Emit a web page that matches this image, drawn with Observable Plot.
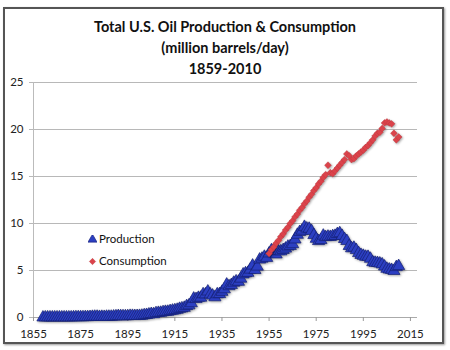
<!DOCTYPE html>
<html>
<head>
<meta charset="utf-8">
<script src="https://cdn.jsdelivr.net/npm/d3@7"></script>
<script src="https://cdn.jsdelivr.net/npm/@observablehq/plot@0.6"></script>
<style>
  html, body { margin: 0; padding: 0; background: #fff; }
  #wrap { position: relative; width: 450px; height: 350px; overflow: hidden; font-family: Lato, "Open Sans", sans-serif; }
  #frame { position: absolute; left: 3px; top: 7px; width: 437px; height: 333px; border: 2px solid #555; box-shadow: 1px 1px 2px #999; }
  #title { position: absolute; left: 0; top: 16px; width: 450px; text-align: center; font-weight: bold; font-size: 14.5px; line-height: 21px; color: #111; }
  #chart { position: absolute; left: 0; top: 0; }
  #legend { position: absolute; left: 88px; top: 228px; font-size: 11.5px; color: #111; line-height: 22px; }
  #legend div { display: flex; align-items: center; }
  #legend svg { margin-right: 2px; }
</style>
</head>
<body>
<div id="wrap">
  <div id="frame"></div>
  <div id="chart"></div>
  <div id="title">Total U.S. Oil Production &amp; Consumption<br>(million barrels/day)<br>1859-2010</div>
  <div id="legend"></div>
</div>
<script>
// Production, 1859-2010 (million barrels/day)
const productionYears = d3.range(1859, 2011);
const productionValues = [
  0.00, 0.01, 0.01, 0.01, 0.01, 0.01, 0.01, 0.01, 0.01, 0.01, // 1859-1868
  0.01, 0.01, 0.01, 0.02, 0.03, 0.03, 0.03, 0.03, 0.04, 0.04, // 1869-1878
  0.05, 0.07, 0.08, 0.08, 0.06, 0.07, 0.06, 0.08, 0.08, 0.08, // 1879-1888
  0.10, 0.12, 0.15, 0.14, 0.13, 0.13, 0.14, 0.17, 0.17, 0.15, // 1889-1898
  0.16, 0.17, 0.19, 0.24, 0.27, 0.32, 0.37, 0.35, 0.46, 0.49, // 1899-1908
  0.50, 0.57, 0.60, 0.61, 0.68, 0.73, 0.77, 0.82, 0.92, 0.97, // 1909-1918
  1.03, 1.21, 1.29, 1.52, 2.01, 1.96, 2.09, 2.11, 2.47, 2.46, // 1919-1928
  2.76, 2.46, 2.33, 2.15, 2.47, 2.49, 2.73, 3.00, 3.50, 3.33, // 1929-1938
  3.46, 3.70, 3.84, 3.80, 4.13, 4.58, 4.70, 4.75, 5.09, 5.52, // 1939-1948
  5.05, 5.41, 6.16, 6.26, 6.46, 6.34, 6.81, 7.15, 7.17, 6.71, // 1949-1958
  7.05, 7.04, 7.18, 7.33, 7.54, 7.61, 7.80, 8.30, 8.80, 9.10, // 1959-1968
  9.24, 9.64, 9.46, 9.44, 9.21, 8.77, 8.37, 8.13, 8.24, 8.71, // 1969-1978
  8.55, 8.60, 8.57, 8.65, 8.69, 8.88, 8.97, 8.68, 8.35, 8.14, // 1979-1988
  7.61, 7.36, 7.42, 7.17, 6.85, 6.66, 6.56, 6.46, 6.45, 6.25, // 1989-1998
  5.88, 5.82, 5.80, 5.74, 5.65, 5.42, 5.18, 5.10, 5.06, 4.95, // 1999-2008
  5.36, 5.47                                                  // 2009-2010
];

// Consumption, 1955-2010 (million barrels/day), as drawn in the reference
const consumptionYears = d3.range(1955, 2011);
const consumptionValues = [
  6.8, 7.2, 7.5, 7.9, 8.2, 8.6, 8.9, 9.3, 9.6, 10.0,          // 1955-1964
  10.3, 10.7, 11.0, 11.4, 11.7, 12.1, 12.4, 12.8, 13.1, 13.5, // 1965-1974
  13.8, 14.2, 14.5, 14.9, 15.2, 16.2, 15.4, 15.3, 15.6, 15.9, // 1975-1984
  16.2, 16.5, 16.8, 17.4, 17.2, 16.8, 16.9, 17.2, 17.4, 17.6, // 1985-1994
  17.8, 18.1, 18.3, 18.6, 18.9, 19.3, 19.6, 19.7, 20.1, 20.7, // 1995-2004
  20.8, 20.7, 20.6, 19.6, 18.9, 19.2                          // 2005-2010
];

const xTicks = [1855, 1875, 1895, 1915, 1935, 1955, 1975, 1995, 2015];
const yTicks = [0, 5, 10, 15, 20, 25];
const seriesNames = ["Production", "Consumption"];
const prodColor = "#2c3fc2", prodStroke = "#141f73";
const consColor = "#db434b", consStroke = "#b8343b";

const production = productionYears.map((y, i) => ({year: y, value: productionValues[i]}));
const consumption = consumptionYears.map((y, i) => ({year: y, value: consumptionValues[i]}));

const chart = Plot.plot({
  width: 450,
  height: 350,
  marginLeft: 33,
  marginRight: 33,
  marginTop: 82,
  marginBottom: 33,
  style: {fontFamily: "Lato, 'Open Sans', sans-serif", fontSize: "11.5px", color: "#222", background: "transparent", overflow: "visible"},
  x: {domain: [1855, 2018], ticks: xTicks, tickFormat: d => String(d), label: null},
  y: {domain: [0, 25], ticks: yTicks, label: null},
  marks: [
    Plot.gridY(yTicks, {stroke: "#b8b8b8", strokeOpacity: 1, x1: 1855, x2: 2018, insetLeft: -4}),
    Plot.ruleX([1855], {stroke: "#bbb", y1: 0, y2: 25}),
    Plot.ruleY([0], {stroke: "#aaa"}),
    Plot.axisX({ticks: xTicks, tickSize: 4, tickPadding: 8, stroke: "#999", fill: "#222", label: null, tickFormat: d => String(d)}),
    Plot.axisY({ticks: yTicks, tickSize: 0, tickPadding: 10, fill: "#222", label: null}),
    Plot.dot(production, {x: "year", y: "value", symbol: "triangle", r: 4.5, fill: prodColor, stroke: prodStroke, strokeWidth: 0.7}),
    Plot.dot(consumption, {x: "year", y: "value", symbol: "diamond2", r: 3.1, fill: consColor, stroke: consStroke, strokeWidth: 0.4})
  ]
});
chart.querySelectorAll("g[aria-label='dot']").forEach(g => g.style.filter = "drop-shadow(1px 1px 0.8px rgba(0,0,0,0.35))");
document.getElementById("chart").appendChild(chart);

// legend
const legend = document.getElementById("legend");
const syms = [
  {name: seriesNames[0], svg: `<svg width="9" height="9" viewBox="-4.5 -4.5 9 9"><path d="${d3.symbol(d3.symbolTriangle, 36)()}" fill="${prodColor}" stroke="${prodStroke}" stroke-width="0.6"/></svg>`},
  {name: seriesNames[1], svg: `<svg width="9" height="9" viewBox="-4.5 -4.5 9 9"><path d="${d3.symbol(d3.symbolDiamond2, 26)()}" fill="${consColor}" stroke="${consStroke}" stroke-width="0.4"/></svg>`}
];
syms.forEach(s => {
  const d = document.createElement("div");
  d.innerHTML = s.svg + `<span>${s.name}</span>`;
  legend.appendChild(d);
});
</script>
</body>
</html>
